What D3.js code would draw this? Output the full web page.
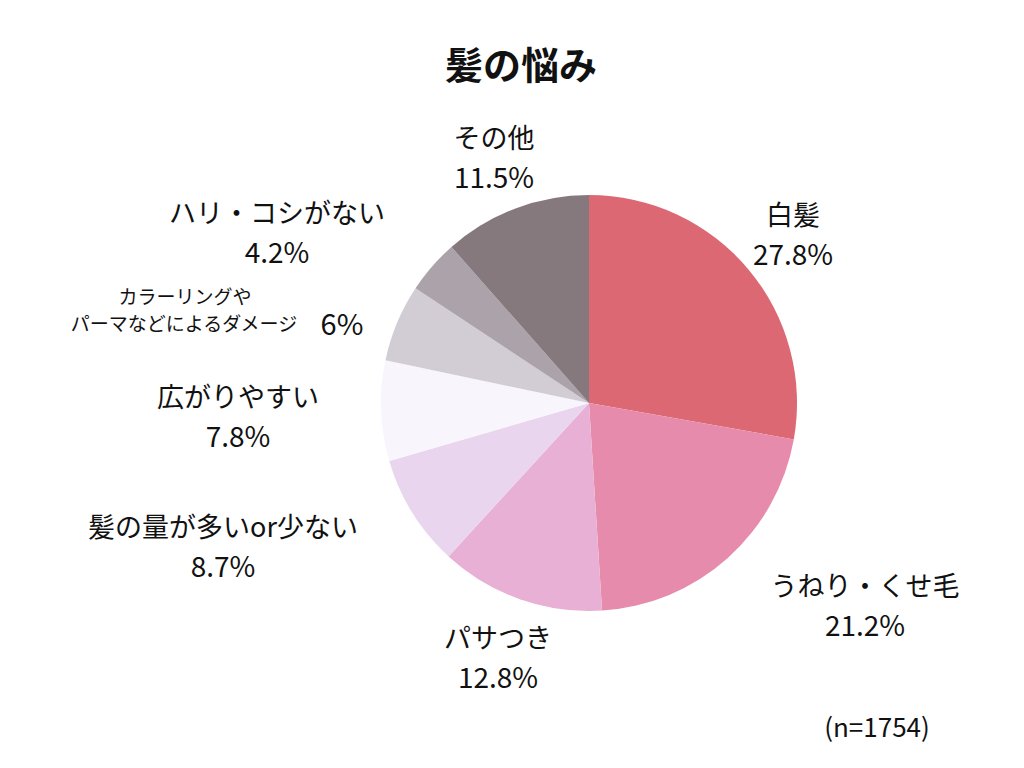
<!DOCTYPE html>
<html>
<head>
<meta charset="utf-8">
<script src="https://cdn.jsdelivr.net/npm/d3@7"></script>
<style>
  body { margin: 0; background: #fff; }
  text { font-family: "Noto Sans CJK JP", "Noto Sans", sans-serif; fill: #111; font-weight: 400; }
</style>
</head>
<body>
<div class="chart"></div>
<script>
// data
var categories = ["白髪", "うねり・くせ毛", "パサつき", "髪の量が多いor少ない", "広がりやすい", "カラーリングや\nパーマなどによるダメージ", "ハリ・コシがない", "その他"];
var values = [27.8, 21.2, 12.8, 8.7, 7.8, 6, 4.2, 11.5];
var valueLabels = ["27.8%", "21.2%", "12.8%", "8.7%", "7.8%", "6%", "4.2%", "11.5%"];
var colors = ["#DC6874", "#E68BAB", "#E8B0D4", "#EAD5EF", "#F8F5FD", "#D2CDD5", "#ACA2AA", "#85797D"];

// label anchors (layout, not data)
var labelPos = [
  { x: 793, y: 213 },
  { x: 865, y: 584 },
  { x: 498, y: 636 },
  { x: 223, y: 525 },
  { x: 238, y: 395 },
  { x: 185, y: 295 },
  { x: 277, y: 211 },
  { x: 494, y: 136 }
];

var width = 1024, height = 768;
var cx = 589, cy = 403, radius = 208;

var svg = d3.select(".chart")
  .append("svg")
    .attr("width", width)
    .attr("height", height);

// title
svg.append("text")
  .attr("x", 521)
  .attr("y", 62)
  .attr("text-anchor", "middle")
  .attr("dominant-baseline", "central")
  .style("font-size", "38px")
  .style("font-weight", "bold")
  .text("髪の悩み");

var pie = d3.pie().sort(null).value(function(d) { return d; });
var arc = d3.arc().innerRadius(0).outerRadius(radius);

var g = svg.append("g")
  .attr("transform", "translate(" + cx + "," + cy + ")");

g.selectAll("path")
  .data(pie(values))
  .enter()
  .append("path")
    .attr("d", arc)
    .attr("fill", function(d, i) { return colors[i]; });

// labels
categories.forEach(function(c, i) {
  var p = labelPos[i];
  var lines = c.split("\n");
  if (lines.length === 1) {
    svg.append("text")
      .attr("x", p.x).attr("y", p.y)
      .attr("text-anchor", "middle")
      .attr("dominant-baseline", "central")
      .style("font-size", "27px")
      .text(c);
    svg.append("text")
      .attr("x", p.x).attr("y", p.y + 40)
      .attr("text-anchor", "middle")
      .attr("dominant-baseline", "central")
      .style("font-size", "28px")
      .text(valueLabels[i]);
  } else {
    // two small lines, value to the right
    svg.append("text")
      .attr("x", p.x).attr("y", p.y)
      .attr("text-anchor", "middle")
      .attr("dominant-baseline", "central")
      .style("font-size", "19px")
      .text(lines[0]);
    svg.append("text")
      .attr("x", p.x - 1).attr("y", p.y + 27)
      .attr("text-anchor", "middle")
      .attr("dominant-baseline", "central")
      .style("font-size", "19px")
      .text(lines[1]);
    svg.append("text")
      .attr("x", 342).attr("y", p.y + 27)
      .attr("text-anchor", "middle")
      .attr("dominant-baseline", "central")
      .style("font-size", "29px")
      .text(valueLabels[i]);
  }
});

svg.append("text")
  .attr("x", 877)
  .attr("y", 725)
  .attr("text-anchor", "middle")
  .attr("dominant-baseline", "central")
  .style("font-size", "26px")
  .text("(n=1754)");
</script>
</body>
</html>
